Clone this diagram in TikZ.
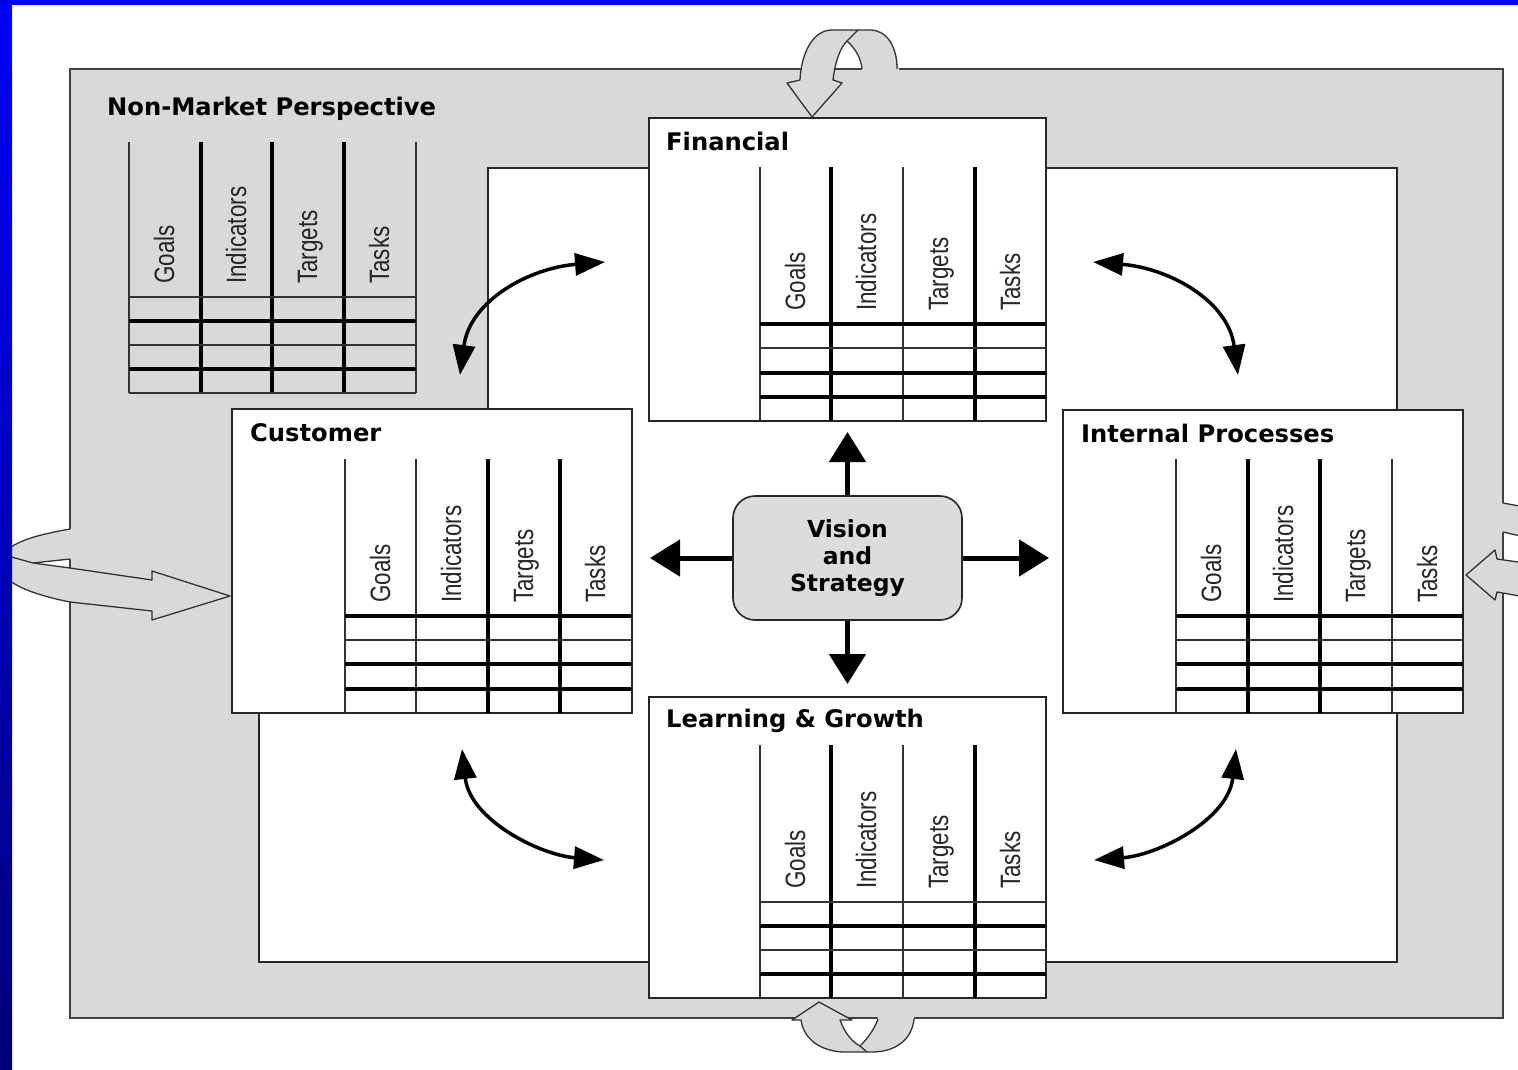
\documentclass[tikz,border=0pt]{standalone}
\usepackage{fontspec}
\usepackage{graphicx}
\setmainfont{DejaVu Sans}
\newfontfamily\arialf{Liberation Sans}
\newfontfamily\titlef{DejaVu Sans}
\usetikzlibrary{arrows.meta,calc,shapes.misc}
\definecolor{panelgray}{RGB}{217,217,217}
\definecolor{visgray}{RGB}{220,220,220}
\definecolor{edgeblue}{RGB}{0,0,250}
\definecolor{darkblue}{RGB}{0,0,120}
\begin{document}
\begin{tikzpicture}[x=1pt,y=-1pt,
  gbox/.style={draw=black!85,line width=1.6pt,fill=white,inner sep=0pt,outer sep=0pt,anchor=north west},
  ttl/.style={font=\titlef\bfseries\fontsize{24.2}{28}\selectfont,anchor=base west,inner sep=0pt},
  collab/.style={font=\arialf\fontsize{28}{30}\selectfont,rotate=90,anchor=base west,inner sep=0pt,text=black!85},
  thn/.style={line width=1.2pt,black!80},
  thk/.style={line width=3.2pt,black},
  bigarr/.style={line width=5pt,-{Triangle[length=30pt,width=36pt]}},
  curv/.style={line width=3.5pt,{Triangle[length=30pt,width=22pt]}-{Triangle[length=30pt,width=22pt]}},
  hollowfill/.style={fill=panelgray},
  hollowline/.style={draw=black!80,line width=1.3pt,line join=round}]
\useasboundingbox (0,0) rectangle (1518,1069);
\fill[white] (0,0) rectangle (1518,1069);
% outer gray panel
\draw[fill=panelgray,draw=black!75,line width=1.5pt] (70,69) rectangle (1503,1018);
% inner white area
\draw[fill=white,draw=black!85,line width=1.5pt] (488,168) -- (1397,168) -- (1397,962) -- (259,962) -- (259,600) -- (488,600) -- cycle;
% Non-market title and table
\node[ttl] (nmt) at (107,115) {Non-Market Perspective};
\draw[thn] (129,142) -- (129,393);
\draw[thk] (201,142) -- (201,393);
\draw[thk] (272,142) -- (272,393);
\draw[thk] (344,142) -- (344,393);
\draw[thn] (416,142) -- (416,393);
\draw[thn] (129,297) -- (416,297);
\draw[thk] (129,321) -- (416,321);
\draw[thn] (129,345) -- (416,345);
\draw[thk] (129,369) -- (416,369);
\draw[thn] (129,393) -- (416,393);
\foreach \x/\t in {129/Goals,201/Indicators,272/Targets,344/Tasks}
  \node[collab] (nm-\t) at (\x+45,284) {\scalebox{0.8}[1]{\t}};
% hollow curved arrows
% top
\fill[hollowfill] (899,71) .. controls (897,45) and (886,30) .. (870,30) -- (832,30) .. controls (812,30) and (801,55) .. (800,80) -- (787,83) -- (812,117) -- (842,83) -- (833,80) .. controls (835,62) and (840,48) .. (847,41) .. controls (855,48) and (861,58) .. (862,71) -- cycle;
\draw[hollowline] (897,69) .. controls (897,45) and (886,30) .. (870,30) -- (832,30) .. controls (812,30) and (801,55) .. (800,80) -- (787,83) -- (812,117) -- (842,83) -- (833,80) .. controls (835,62) and (840,48) .. (847,41) .. controls (855,48) and (861,58) .. (862,69);
\draw[hollowline] (847,41) -- (858,30);
% bottom
\fill[hollowfill] (819,1002) -- (852,1020) -- (840,1020) .. controls (845,1033) and (851,1041) .. (860,1046) .. controls (867,1039) and (874,1030) .. (878,1017) -- (914,1017) .. controls (912,1040) and (895,1052) .. (872,1052) -- (842,1052) .. controls (815,1050) and (803,1035) .. (801,1020) -- (792,1020) -- cycle;
\draw[hollowline] (878,1019) .. controls (874,1030) and (867,1039) .. (860,1046) .. controls (851,1041) and (845,1033) .. (840,1020) -- (852,1020) -- (819,1002) -- (792,1020) -- (801,1020) .. controls (803,1035) and (815,1050) .. (842,1052) -- (872,1052) .. controls (895,1052) and (912,1040) .. (914,1019);
\draw[hollowline] (860,1046) -- (867,1052);
% left
\fill[hollowfill] (72,529) .. controls (30,536) and (0,545) .. (0,565) .. controls (0,582) and (30,594) .. (70,602) -- (152,611) -- (152,620) -- (230,596) -- (152,571) -- (152,580) -- (70,568) -- (33,563) -- (72,559) -- cycle;
\draw[hollowline] (70,559) -- (33,563) -- (70,568) -- (152,580) -- (152,571) -- (230,596) -- (152,620) -- (152,611) -- (70,602) .. controls (30,594) and (0,582) .. (0,565) .. controls (0,545) and (30,536) .. (70,529);
\draw[hollowline] (33,563) -- (8,556);
% right
\fill[hollowfill] (1501,503) -- (1525,507) -- (1525,537) -- (1501,532) -- cycle;
\draw[hollowline] (1503,503) -- (1525,507);
\draw[hollowline] (1503,532) -- (1525,537);
\fill[hollowfill] (1525,563) -- (1497,559) -- (1495,550) -- (1466,575) -- (1495,600) -- (1497,592) -- (1525,597) -- cycle;
\draw[hollowline] (1525,563) -- (1497,559) -- (1495,550) -- (1466,575) -- (1495,600) -- (1497,592) -- (1525,597);
% perspective boxes
\node[gbox,minimum width=397pt,minimum height=303pt] (fin) at (649,118) {};
\node[gbox,minimum width=400pt,minimum height=304pt] (cu) at (232,409) {};
\node[gbox,minimum width=400pt,minimum height=303pt] (ip) at (1063,410) {};
\node[gbox,minimum width=397pt,minimum height=301pt] (lg) at (649,697) {};
% Financial
\node[ttl] (fint) at (666,150) {Financial};
\draw[thn] (760,167) -- (760,421);
\draw[thk] (831,167) -- (831,421);
\draw[thn] (903,167) -- (903,421);
\draw[thk] (975,167) -- (975,421);
\draw[thk] (760,324) -- (1046,324);
\draw[thn] (760,348) -- (1046,348);
\draw[thk] (760,373) -- (1046,373);
\draw[thk] (760,397) -- (1046,397);
\foreach \x/\t in {760/Goals,831/Indicators,903/Targets,975/Tasks}
  \node[collab] (fin-\t) at (\x+45,311) {\scalebox{0.8}[1]{\t}};
% Customer
\node[ttl] (cut) at (250,441) {Customer};
\draw[thn] (345,459) -- (345,713);
\draw[thn] (416,459) -- (416,713);
\draw[thk] (488,459) -- (488,713);
\draw[thk] (560,459) -- (560,713);
\draw[thk] (345,616) -- (632,616);
\draw[thn] (345,640) -- (632,640);
\draw[thk] (345,664) -- (632,664);
\draw[thk] (345,689) -- (632,689);
\foreach \x/\t in {345/Goals,416/Indicators,488/Targets,560/Tasks}
  \node[collab] (cu-\t) at (\x+45,603) {\scalebox{0.8}[1]{\t}};
% Internal processes
\node[ttl] (ipt) at (1081,442) {Internal Processes};
\draw[thn] (1176,459) -- (1176,713);
\draw[thk] (1248,459) -- (1248,713);
\draw[thk] (1320,459) -- (1320,713);
\draw[thn] (1392,459) -- (1392,713);
\draw[thk] (1176,616) -- (1463,616);
\draw[thn] (1176,640) -- (1463,640);
\draw[thk] (1176,664) -- (1463,664);
\draw[thk] (1176,689) -- (1463,689);
\foreach \x/\t in {1176/Goals,1248/Indicators,1320/Targets,1392/Tasks}
  \node[collab] (ip-\t) at (\x+45,603) {\scalebox{0.8}[1]{\t}};
% Learning & growth
\node[ttl] (lgt) at (666,727) {Learning \& Growth};
\draw[thn] (760,745) -- (760,998);
\draw[thk] (831,745) -- (831,998);
\draw[thn] (903,745) -- (903,998);
\draw[thk] (975,745) -- (975,998);
\draw[thn] (760,902) -- (1046,902);
\draw[thk] (760,926) -- (1046,926);
\draw[thn] (760,950) -- (1046,950);
\draw[thk] (760,974) -- (1046,974);
\foreach \x/\t in {760/Goals,831/Indicators,903/Targets,975/Tasks}
  \node[collab] (lg-\t) at (\x+45,889) {\scalebox{0.8}[1]{\t}};
% Vision and strategy
\node[draw=black!85,line width=1.6pt,fill=visgray,rounded corners=22pt,minimum width=229pt,minimum height=124pt,inner sep=0pt,align=center,font=\titlef\bfseries\fontsize{23.5}{27}\selectfont] (vis) at (847.5,558) {Vision\\and\\Strategy};
\draw[bigarr,shorten >=11pt] (vis.north) -- (vis.north |- fin.south);
\draw[bigarr,shorten >=13pt] (vis.south) -- (vis.south |- lg.north);
\draw[bigarr,shorten >=14pt] (vis.east) -- (vis.east -| ip.west);
\draw[bigarr,shorten >=18pt] (vis.west) -- (vis.west -| cu.east);
% curved double arrows
\coordinate (tl1) at (460,375); \coordinate (tl2) at (605,262);
\coordinate (tr1) at (1238,375); \coordinate (tr2) at (1093,262);
\coordinate (bl1) at (462,749); \coordinate (bl2) at (604,860);
\coordinate (br1) at (1236,749); \coordinate (br2) at (1094,860);
\draw[curv] (tl1) .. controls (470,300) and (530,268) .. (tl2);
\draw[curv] (tr1) .. controls (1228,300) and (1168,268) .. (tr2);
\draw[curv] (bl1) .. controls (470,820) and (540,855) .. (bl2);
\draw[curv] (br1) .. controls (1228,820) and (1158,855) .. (br2);
% blue frame
\fill[edgeblue] (0,0) rectangle (1518,5);
\shade[top color=edgeblue,bottom color=darkblue] (0,0) rectangle (12,1069);
\end{tikzpicture}
\end{document}
